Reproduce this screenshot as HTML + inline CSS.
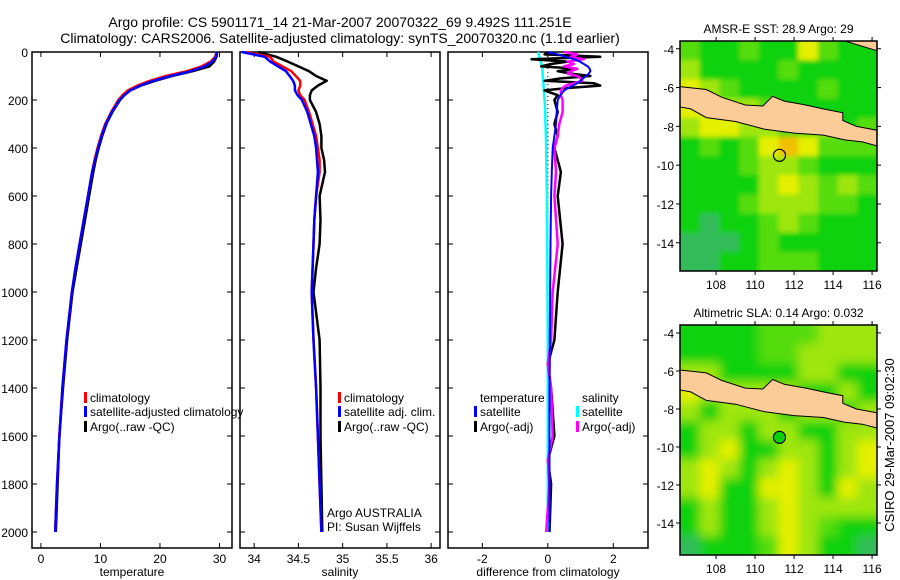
<!DOCTYPE html>
<html><head><meta charset="utf-8"><style>
html,body{margin:0;padding:0;background:#fff;}
svg{display:block;font-family:"Liberation Sans",sans-serif;}
</style></head><body>
<svg id="s" width="900" height="580" viewBox="0 0 900 580" xmlns="http://www.w3.org/2000/svg">
<defs>
<filter id="blur1" x="-5%" y="-5%" width="110%" height="110%"><feGaussianBlur stdDeviation="2.5"/></filter>
<filter id="blur2" x="-5%" y="-5%" width="110%" height="110%"><feGaussianBlur stdDeviation="5"/></filter>
<clipPath id="clipTop"><rect x="680" y="41" width="197" height="230"/></clipPath>
<clipPath id="clipBot"><rect x="680" y="325" width="197" height="230"/></clipPath>
</defs>
<text x="340" y="27" font-size="14" text-anchor="middle">Argo profile: CS 5901171_14 21-Mar-2007 20070322_69 9.492S 111.251E</text>
<text x="340" y="43" font-size="14" text-anchor="middle">Climatology: CARS2006. Satellite-adjusted climatology: synTS_20070320.nc (1.1d earlier)</text>
<text transform="translate(894,445) rotate(-90)" font-size="13" text-anchor="middle">CSIRO 29-Mar-2007 09:02:30</text>
<g id="g"></g>
</svg>
<script>
// ---------- data ----------
const depths = [0,20,40,60,80,100,120,140,160,180,200,250,300,350,400,450,500,600,700,800,900,1000,1200,1400,1600,1800,2000];
const tempClim = [29.5,29.3,28.5,27.0,24.5,21.0,18.3,16.2,14.6,13.7,13.0,11.8,10.8,10.1,9.5,9.0,8.6,7.9,7.2,6.5,5.8,5.2,4.3,3.6,3.1,2.7,2.4];
const tempSat  = [29.6,29.4,28.8,27.5,25.2,21.8,18.9,16.7,15.0,14.0,13.2,11.9,10.9,10.2,9.6,9.1,8.6,7.9,7.2,6.5,5.8,5.2,4.3,3.6,3.1,2.7,2.4];
const tempArgo = [29.6,29.5,29.1,28.3,25.5,22.0,19.2,16.8,15.0,14.0,13.3,12.0,11.0,10.3,9.7,9.2,8.8,8.1,7.4,6.7,6.0,5.3,4.4,3.7,3.1,2.8,2.5];
const salClim = [33.90,34.18,34.22,34.32,34.42,34.47,34.52,34.52,34.50,34.52,34.57,34.62,34.66,34.70,34.72,34.74,34.74,34.70,34.68,34.67,34.66,34.65,34.67,34.70,34.72,34.74,34.76];
const salSat  = [33.86,34.12,34.18,34.27,34.36,34.40,34.44,34.46,34.46,34.49,34.54,34.60,34.64,34.68,34.70,34.71,34.72,34.70,34.68,34.67,34.66,34.65,34.67,34.70,34.72,34.74,34.76];
const salArgo = [34.05,34.25,34.38,34.50,34.62,34.70,34.82,34.72,34.65,34.63,34.63,34.70,34.74,34.76,34.76,34.79,34.80,34.74,34.75,34.74,34.70,34.67,34.74,34.75,34.75,34.76,34.77];
const diffDepths = [0,10,20,30,40,50,60,70,80,90,100,110,120,130,140,150,160,180,200,250,300,350,400,500,600,800,1000,1200,1300,1400,1600,1700,1800,2000];
const diffTempSat  = [0,0.3,0.55,0.8,0.98,1.1,1.22,1.28,1.3,1.25,1.17,1.08,1.0,0.9,0.76,0.62,0.5,0.38,0.3,0.27,0.25,0.2,0.15,0.12,0.1,0.08,0.07,0.06,0.06,0.05,0.05,0.05,0.05,0.05];
const diffTempArgo = [0,-0.1,1.6,-0.5,0.6,0.1,-0.2,0.9,0.3,0.7,1.3,0.4,-0.1,1.4,1.6,0.6,-0.1,0.3,0.2,0.3,0.2,0.3,0.2,0.4,0.3,0.45,0.3,0.2,0.0,0.1,0.2,0.0,0.1,0.05];
const diffSalSat  = [-0.3,-0.28,-0.26,-0.24,-0.22,-0.2,-0.18,-0.17,-0.16,-0.16,-0.15,-0.15,-0.14,-0.14,-0.13,-0.13,-0.12,-0.11,-0.1,-0.08,-0.07,-0.06,-0.05,-0.04,-0.03,-0.02,-0.01,0,0,0,0,0,0,0];
const diffSalArgo = [0.5,0.9,0.7,1.1,0.6,0.8,0.5,0.9,0.7,0.6,0.9,1.0,1.05,0.8,0.55,0.45,0.4,0.4,0.45,0.45,0.35,0.3,0.2,0.25,0.2,0.3,0.15,0.1,0.0,0.1,0.15,0,0.05,-0.05];
const depthTicks = [0,200,400,600,800,1000,1200,1400,1600,1800,2000];
const tempTicks = [0,10,20,30];
const salTicks = [34,34.5,35,35.5,36];
const diffTicks = [-2,0,2];
const latTicks = [-4,-6,-8,-10,-12,-14];
const lonTicks = [108,110,112,114,116];
// ---------- helpers ----------
const NS="http://www.w3.org/2000/svg", G=document.getElementById('g');
function mk(tag,attrs,parent){const e=document.createElementNS(NS,tag);for(const k in attrs)e.setAttribute(k,attrs[k]);(parent||G).appendChild(e);return e;}
const yD = d => 52 + d*0.24;
function panel(x0,x1,xmin,xmax,ticks,label,name,showDepth){
  const sx = v => x0 + (v-xmin)/(xmax-xmin)*(x1-x0);
  const r=mk('rect',{x:x0,y:52,width:x1-x0,height:496,fill:'none',stroke:'#000','stroke-width':1.5});
  
  
  ticks.forEach(t=>{const x=sx(t);
    mk('line',{x1:x,x2:x,y1:52,y2:57,stroke:'#000'});mk('line',{x1:x,x2:x,y1:548,y2:543,stroke:'#000'});
    const tx=mk('text',{x:x,y:563,'font-size':12,'text-anchor':'middle'});tx.textContent=t;
    
    });
  depthTicks.forEach(d=>{const y=yD(d);
    mk('line',{x1:x0,x2:x0+5,y1:y,y2:y,stroke:'#000'});mk('line',{x1:x1,x2:x1-5,y1:y,y2:y,stroke:'#000'});
    if(showDepth){const tx=mk('text',{x:x0-4,y:y+5,'font-size':12,'text-anchor':'end'});tx.textContent=d;
      
      }});
  const lb=mk('text',{x:(x0+x1)/2,y:576,'font-size':12,'text-anchor':'middle'});lb.textContent=label;
  
  
  return sx;
}
function line(sx,vals,ds,color,name,w){
  const p=vals.map((v,i)=>sx(v).toFixed(1)+','+yD(ds[i]).toFixed(1)).join(' ');
  const e=mk('polyline',{points:p,fill:'none',stroke:color,'stroke-width':w||2.5,'stroke-linejoin':'round'});
  
  
}
function legend(x,y,color,txt,name){
  if(color)mk('rect',{x:x-6,y:y-10,width:3,height:11,fill:color});
  const t=mk('text',{x:x,y:y,'font-size':12});t.textContent=txt;
  
  
}
// ---------- panel 1 ----------
const sT=panel(32,232,-1.5,32.1,tempTicks,'temperature','temperature-panel',true);
line(sT,tempArgo,depths,'#000','temp-argo-line');
line(sT,tempClim,depths,'#f00','temp-climatology-line');
line(sT,tempSat,depths,'#00f','temp-satellite-line');
legend(90,402,'#f00','climatology','legend-climatology');
legend(90,416,'#00f','satellite-adjusted climatology','legend-satellite-adjusted');
legend(90,431,'#000','Argo(..raw -QC)','legend-argo');
// ---------- panel 2 ----------
const sS=panel(240,440,33.84,36.1,salTicks,'salinity','salinity-panel',false);
line(sS,salArgo,depths,'#000','sal-argo-line');
line(sS,salClim,depths,'#f00','sal-climatology-line');
line(sS,salSat,depths,'#00f','sal-satellite-line');
legend(344,402,'#f00','climatology','legend-sal-climatology');
legend(344,416,'#00f','satellite adj. clim.','legend-sal-satellite');
legend(344,431,'#000','Argo(..raw -QC)','legend-sal-argo');
legend(327,517,null,'Argo AUSTRALIA','argo-institution');
legend(327,531,null,'PI: Susan Wijffels','argo-pi');
// ---------- panel 3 ----------
const sD=panel(448,648,-3.05,3.06,diffTicks,'difference from climatology','difference-panel',false);
mk('line',{x1:sD(0),x2:sD(0),y1:52,y2:yD(2000),stroke:'#000','stroke-dasharray':'1,3'});
line(sD,diffSalSat,diffDepths,'#0ff','diff-sal-satellite-line');
line(sD,diffTempArgo,diffDepths,'#000','diff-temp-argo-line');
line(sD,diffSalArgo,diffDepths,'#f0f','diff-sal-argo-line');
line(sD,diffTempSat,diffDepths,'#00f','diff-temp-satellite-line',2);
legend(480,402,null,'temperature','legend-temp-header');
legend(480,416,'#00f','satellite','legend-diff-temp-satellite');
legend(480,431,'#000','Argo(-adj)','legend-diff-temp-argo');
legend(582,402,null,'salinity','legend-sal-header');
legend(582,416,'#0ff','satellite','legend-diff-sal-satellite');
legend(582,431,'#f0f','Argo(-adj)','legend-diff-sal-argo');
// ---------- maps ----------
const palette=['#0ad20a','#9ee60a','#e4f000','#f0c000','#30bb58','#55dc0a'];
const sstGrid=[
[5,0,0,5,0,0,2,5,0,0],[1,0,0,0,0,5,0,0,0,0],[2,1,5,0,0,0,0,5,0,0],[2,2,1,1,5,0,0,0,0,0],
[1,2,2,1,1,5,5,1,0,5],[0,5,0,5,2,3,2,5,5,5],[0,0,0,5,1,1,5,0,0,0],[0,0,0,0,1,2,1,5,1,5],
[0,0,0,5,1,1,1,5,5,0],[0,4,0,0,5,1,5,0,0,0],[4,4,4,0,5,0,0,0,0,0],[4,4,0,0,5,5,5,0,0,0]];
const slaGrid=[
[0,0,0,0,5,5,5,1,1,1],[0,0,0,0,5,5,1,1,1,1],[1,1,0,0,0,0,1,1,0,0],[2,1,1,1,1,1,0,0,1,0],
[1,0,1,1,1,0,1,1,0,1],[0,1,1,0,1,1,0,0,1,1],[0,1,2,0,0,1,1,0,1,2],[1,2,1,0,1,2,1,0,1,2],
[1,2,0,0,2,2,1,0,2,1],[0,1,0,0,1,2,1,1,1,1],[0,1,0,0,1,2,1,5,0,0],[4,0,0,0,5,2,1,0,0,4]];
const javaCoast=[[106.15,-5.95],[107.5,-6.1],[108.3,-6.5],[109.5,-6.9],[110.4,-6.95],[110.9,-6.45],[111.5,-6.7],[112.6,-6.9],[113.5,-7.1],[114.5,-7.3],[114.5,-7.7],[115.2,-8.0],[116.25,-8.2],[116.25,-9.0],[115.5,-8.8],[114.6,-8.7],[113.5,-8.45],[112,-8.35],[110.5,-8.15],[109,-7.75],[107.5,-7.55],[106.7,-7.1],[106.15,-7.0]];
const borneo=[[114.6,-3.6],[116.25,-3.6],[116.25,-4.1]];
function map(y0,latTop,pxDeg,title,grid,fillCircle,name,withBorneo,clip,blur){
  const x0=680,x1=877,lonL=106.15,h=230;
  const sx=l=>x0+(l-lonL)*19.5, sy=la=>y0+(latTop-la)*pxDeg;
  const cw=(x1-x0)/10, ch=h/12;
  const outer=mk('g',{'clip-path':'url(#'+clip+')'});
  const gg=mk('g',{filter:'url(#'+blur+')'},outer);
  
  
  grid.forEach((row,r)=>row.forEach((v,c)=>mk('rect',{x:x0+c*cw-(c==0?8:0),y:y0+r*ch-(r==0?8:0),width:cw+0.5+(c==0||c==9?8:0),height:ch+0.5+(r==0||r==11?8:0),fill:palette[v]},gg)));
  const poly=pts=>pts.map(p=>sx(p[0]).toFixed(1)+','+sy(p[1]).toFixed(1)).join(' ');
  const j=mk('polygon',{points:poly(javaCoast),fill:'#fccc98',stroke:'#000','stroke-width':1});
  
  
  if(withBorneo)mk('polygon',{points:poly(borneo),fill:'#fccc98',stroke:'#000'});
  const c=mk('circle',{cx:sx(111.251),cy:sy(-9.492),r:6,fill:fillCircle,stroke:'#000','stroke-width':1.2});
  
  
  mk('rect',{x:x0,y:y0,width:x1-x0,height:h,fill:'none',stroke:'#000','stroke-width':1.5});
  latTicks.forEach(la=>{const y=sy(la);mk('line',{x1:x1,x2:x1+4,y1:y,y2:y,stroke:'#000'});mk('line',{x1:x0,x2:x0-4,y1:y,y2:y,stroke:'#000'});
    const t=mk('text',{x:x0-6,y:y+5,'font-size':12,'text-anchor':'end'});t.textContent=la;
    
    });
  lonTicks.forEach(lo=>{const x=sx(lo);mk('line',{x1:x,x2:x,y1:y0+h,y2:y0+h+4,stroke:'#000'});mk('line',{x1:x,x2:x,y1:y0,y2:y0-4,stroke:'#000'});
    const t=mk('text',{x:x,y:y0+h+18,'font-size':12,'text-anchor':'middle'});t.textContent=lo;
    
    });
  const tt=mk('text',{x:(x0+x1)/2,y:y0-8,'font-size':12,'text-anchor':'middle'});tt.textContent=title;
  
  
}
map(41,-3.6,19.4,'AMSR-E SST: 28.9 Argo: 29',sstGrid,'none','sst-map',true,'clipTop','blur1');
map(325,-3.58,19.0,'Altimetric SLA: 0.14 Argo: 0.032',slaGrid,'#0ad20a','sla-map',false,'clipBot','blur2');
</script>
</body></html>
